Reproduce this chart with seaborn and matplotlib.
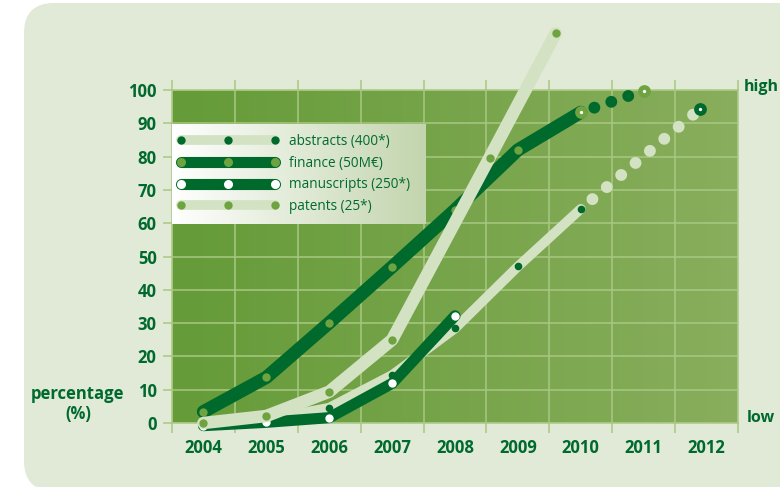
import numpy as np
import matplotlib.pyplot as plt
from matplotlib.lines import Line2D
from matplotlib.patches import FancyBboxPatch
from matplotlib.transforms import IdentityTransform
from matplotlib.colors import LinearSegmentedColormap
import seaborn as sns

# data (percentage)
years = [2004, 2005, 2006, 2007, 2008, 2009, 2010, 2011, 2012]
y_ticks = [0, 10, 20, 30, 40, 50, 60, 70, 80, 90, 100]

finance_x = [2004, 2005, 2006, 2007, 2008, 2009, 2010]
finance_y = [3.4, 13.7, 30.1, 46.9, 64.0, 82.0, 93.3]
finance_ext_x = [2010, 2011]
finance_ext_y = [93.3, 99.8]

abstracts_x = [2004, 2005, 2006, 2007, 2008, 2009, 2010]
abstracts_y = [0.0, 1.0, 4.6, 14.4, 28.4, 47.0, 64.3]
abstracts_ext_x = [2010, 2011.9]
abstracts_ext_y = [64.3, 94.4]

manuscripts_x = [2004, 2005, 2006, 2007, 2008]
manuscripts_y = [-0.8, 0.2, 1.6, 11.9, 32.2]

patents_x = [2004, 2005, 2006, 2007, 2008.55, 2009.6]
patents_y = [0.0, 2.1, 9.4, 25.0, 79.7, 117.0]

labels = ['abstracts (400*)', 'finance (50M€)', 'manuscripts (250*)', 'patents (25*)']

# colours
dark = '#006a2d'
light = '#d3e2c3'
mid = '#6ea33f'
grid_c = '#a8c882'
panel_c = '#e1e9d7'
text_c = '#006a2e'

sns.set_theme(style='white')
plt.rcParams['font.family'] = ['Open Sans', 'DejaVu Sans']

fig = plt.figure(figsize=(7.8, 4.87), dpi=100)
fig.patch.set_facecolor('white')

# rounded light panel behind everything (pixel coords)
panel = FancyBboxPatch((24, -4), 820, 488, boxstyle='round,pad=0,rounding_size=30',
                       transform=IdentityTransform(), facecolor=panel_c, edgecolor='none', zorder=-5)
fig.patches.append(panel)

ax = fig.add_axes([172 / 780, 1 - 423 / 487, 566 / 780, 333 / 487])
ax.set_facecolor('none')

# gradient plot background
bg = LinearSegmentedColormap.from_list('bg', ['#659b38', '#89ae5d'])
ax.imshow(np.linspace(0, 1, 256).reshape(1, -1), cmap=bg, aspect='auto',
          extent=[2003.5, 2012.5, 0, 100], zorder=0)

common = dict(ax=ax, sort=False, clip_on=False, solid_capstyle='round',
              solid_joinstyle='round', marker='o', markeredgewidth=0)

sns.lineplot(x=abstracts_x, y=abstracts_y, color=light, linewidth=7,
             markersize=5.5, markerfacecolor=dark, zorder=2, **common)
ax.plot(abstracts_ext_x, abstracts_ext_y, color=light, linewidth=8.6,
        linestyle=(0.3, (0.001, 1.57)), dash_capstyle='round', clip_on=False, zorder=2)
ax.plot(abstracts_ext_x[-1:], abstracts_ext_y[-1:], 'o', color=dark, markersize=9.2,
        markeredgewidth=0, clip_on=False, zorder=3)
ax.plot(abstracts_ext_x[-1:], abstracts_ext_y[-1:], 'o', color='white', markersize=2.4,
        markeredgewidth=0, clip_on=False, zorder=3)

sns.lineplot(x=manuscripts_x, y=manuscripts_y, color=dark, linewidth=8,
             markersize=6, markerfacecolor='white', zorder=3, **common)

sns.lineplot(x=finance_x, y=finance_y, color=dark, linewidth=9.5,
             markersize=6, markerfacecolor=mid, zorder=4, **common)
ax.plot(finance_ext_x, finance_ext_y, color=dark, linewidth=8.6,
        linestyle=(0.3, (0.001, 1.5)), dash_capstyle='round', clip_on=False, zorder=4)
ends_x = [finance_x[-1], finance_ext_x[-1]]
ends_y = [finance_y[-1], finance_ext_y[-1]]
ax.plot(ends_x, ends_y, 'o', color=mid, markersize=9.2, markeredgewidth=0, clip_on=False, zorder=4)
ax.plot(ends_x, ends_y, 'o', color='white', markersize=2.4, markeredgewidth=0, clip_on=False, zorder=4)

sns.lineplot(x=patents_x, y=patents_y, color=light, linewidth=9,
             markersize=6, markerfacecolor=mid, zorder=5, **common)

ax.set_xlim(2003.5, 2012.5)
ax.set_ylim(0, 100)
ax.set_xlabel('')
ax.set_ylabel('')

# grid on year boundaries, labels in the middle of each year
ax.set_xticks(np.arange(2003.5, 2013, 1.0))
ax.set_xticks(years, minor=True)
ax.set_xticklabels([str(y) for y in years], minor=True)
ax.tick_params(axis='x', which='major', labelbottom=False, top=True, bottom=True,
               length=7, width=1.1, color=grid_c, direction='out')
ax.tick_params(axis='x', which='minor', length=0, pad=11.5, labelsize=12,
               labelcolor=text_c)
ax.set_yticks(y_ticks)
ax.tick_params(axis='y', which='major', left=True, right=False, length=6.5, width=1.1,
               color=grid_c, pad=4.5, labelsize=12, labelcolor=text_c)
for lab in ax.get_xticklabels(minor=True) + ax.get_yticklabels():
    lab.set_fontweight('bold')

ax.grid(True, which='major', color=grid_c, linewidth=1.1)
ax.set_axisbelow(True)
for sp in ax.spines.values():
    sp.set_color(grid_c)
    sp.set_linewidth(1.1)

# legend on its own gradient box
lax = fig.add_axes([172 / 780, 1 - 224 / 487, 253 / 780, 100 / 487])
lg = LinearSegmentedColormap.from_list('lg', ['#ffffff', '#c3d5ae'])
lax.imshow(np.linspace(0, 1, 256).reshape(1, -1), cmap=lg, aspect='auto', extent=[0, 1, 0, 1])
lax.axis('off')

handles = [
    Line2D([], [], color=light, lw=7, marker='o', markersize=6, markerfacecolor=dark,
           markeredgewidth=0, solid_capstyle='round'),
    Line2D([], [], color=dark, lw=8, marker='o', markersize=6.5, markerfacecolor=mid,
           markeredgewidth=0, solid_capstyle='round'),
    Line2D([], [], color=dark, lw=8, marker='o', markersize=6.5, markerfacecolor='white',
           markeredgewidth=0, solid_capstyle='round'),
    Line2D([], [], color=light, lw=7, marker='o', markersize=6, markerfacecolor=mid,
           markeredgewidth=0, solid_capstyle='round'),
]
leg = lax.legend(handles, labels, loc='center left', bbox_to_anchor=(0, 0.5),
                 borderaxespad=0, borderpad=0.38, numpoints=3, handlelength=7.5,
                 handletextpad=0.68, labelspacing=0.5, frameon=False,
                 prop={'size': 9.8})
for t in leg.get_texts():
    t.set_color(text_c)

# side texts
fig.text(744 / 780, 1 - 87 / 487, 'high', color=text_c, fontsize=11.5, fontweight='bold',
         ha='left', va='center')
fig.text(747 / 780, 1 - 418 / 487, 'low', color=text_c, fontsize=11.5, fontweight='bold',
         ha='left', va='center')
fig.text(78 / 780, 1 - 404 / 487, 'percentage\n(%)', color=text_c, fontsize=12,
         fontweight='bold', ha='center', va='center', linespacing=1.1)

fig.savefig('out.png', dpi=100)
